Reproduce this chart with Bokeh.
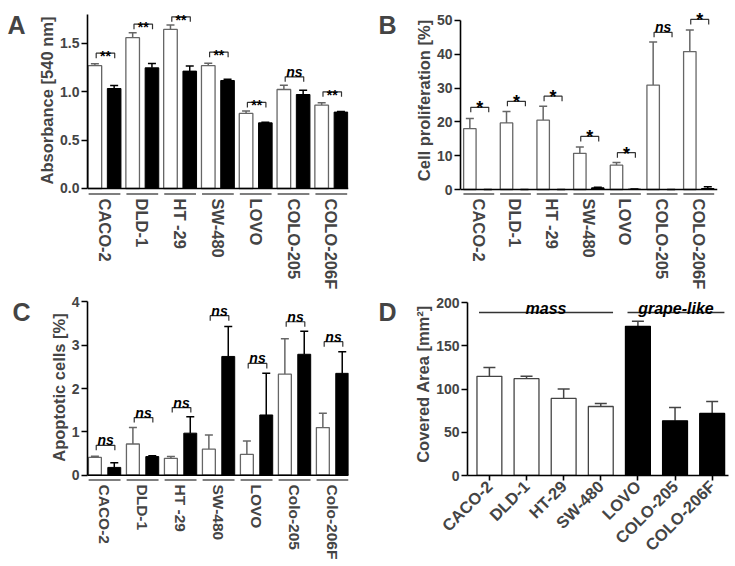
import numpy as np
from bokeh.plotting import figure
from bokeh.models import (ColumnDataSource, FixedTicker, PrintfTickFormatter, Span,
                          Whisker, TeeHead, Range1d, LinearAxis)
from bokeh.layouts import column, row
from bokeh.embed import file_html
from bokeh.resources import INLINE
from bokeh.core.properties import value

# ------------------------------------------------------------------ data
a_labels = ["CACO-2", "DLD-1", "HT -29", "SW-480", "LOVO", "COLO-205", "COLO-206F"]
a_ctrl = [1.27, 1.56, 1.645, 1.27, 0.776, 1.024, 0.862]
a_ctrl_err = [0.02, 0.05, 0.045, 0.025, 0.025, 0.045, 0.025]
a_treat = [1.034, 1.248, 1.214, 1.117, 0.679, 0.972, 0.79]
a_treat_err = [0.032, 0.045, 0.052, 0.014, 0.007, 0.045, 0.007]
a_sig = ["**", "**", "**", "**", "**", "ns", "**"]
a_sig_y = [1.40, 1.70, 1.775, 1.41, 0.89, 1.155, 1.0]

b_labels = ["CACO-2", "DLD-1", "HT -29", "SW-480", "LOVO", "COLO-205", "COLO-206F"]
b_ctrl = [18.0, 19.7, 20.5, 10.7, 7.2, 30.9, 40.8]
b_ctrl_err = [3.0, 3.4, 4.1, 1.9, 0.8, 12.7, 6.4]
b_treat = [0.0, 0.0, 0.0, 0.5, 0.1, 0.0, 0.3]
b_treat_err = [0.0, 0.0, 0.0, 0.2, 0.05, 0.0, 0.5]
b_sig = ["*", "*", "*", "*", "*", "ns", "*"]
b_sig_y = [24.3, 26.1, 27.6, 15.7, 10.9, 46.5, 50.3]

c_labels = ["CACO-2", "DLD-1", "HT -29", "SW-480", "LOVO", "Colo-205", "Colo-206F"]
c_ctrl = [0.41, 0.72, 0.39, 0.60, 0.48, 2.33, 1.10]
c_ctrl_err = [0.03, 0.38, 0.04, 0.33, 0.31, 0.82, 0.33]
c_treat = [0.18, 0.43, 0.97, 2.74, 1.39, 2.79, 2.35]
c_treat_err = [0.11, 0.02, 0.38, 0.69, 0.96, 0.53, 0.50]
c_sig = ["ns", "ns", "ns", "ns", "ns", "ns", "ns"]
c_sig_y = [0.69, 1.33, 1.56, 3.68, 2.58, 3.54, 3.08]

d_labels = ["CACO-2", "DLD-1", "HT-29", "SW-480", "LOVO", "COLO-205", "COLO-206F"]
d_area = [114.7, 112.0, 89.1, 79.8, 172.5, 63.2, 71.7]
d_area_err = [10.1, 2.7, 10.9, 3.5, 5.8, 15.5, 14.0]
d_growth = ["mass", "mass", "mass", "mass", "grape-like", "grape-like", "grape-like"]
d_group_names = ["mass", "grape-like"]
d_group_y = [188.4, 188.4]

panel_letters = ["A", "B", "C", "D"]

FONT = "Liberation Sans"


def style_axes(p, yticks, yfmt, ytop, ylabel):
    p.xgrid.visible = False
    p.ygrid.visible = False
    p.outline_line_color = None
    p.background_fill_color = "white"
    ya = p.yaxis[0]
    ya.bounds = (0, ytop)
    ya.ticker = FixedTicker(ticks=yticks)
    ya.formatter = PrintfTickFormatter(format=yfmt)
    ya.axis_label = ylabel
    ya.axis_label_text_font = FONT
    ya.axis_label_text_font_style = "bold"
    ya.axis_label_text_font_size = "16.5px"
    ya.axis_label_standoff = 1
    ya.major_label_text_font = FONT
    ya.major_label_text_font_style = "bold"
    ya.major_label_text_font_size = "14px"
    ya.major_label_standoff = 2
    ya.axis_line_width = 1.6
    ya.axis_line_color = "black"
    ya.major_tick_line_width = 1.6
    ya.major_tick_out = 6
    ya.major_tick_in = 0
    ya.minor_tick_line_color = None


def add_letter(p, letter, frame_h, px_from_top, standoff):
    # panel letter drawn as the only tick label of an extra, line-less left axis
    p.extra_y_ranges = {"letter": Range1d(0, frame_h)}
    pos = int(round(frame_h - px_from_top))
    ax = LinearAxis(y_range_name="letter", ticker=FixedTicker(ticks=[pos]),
                    major_label_overrides={pos: letter},
                    axis_line_color=None, major_tick_line_color=None,
                    minor_tick_line_color=None, major_tick_out=0, major_tick_in=0,
                    major_label_text_font=FONT, major_label_text_font_style="bold",
                    major_label_text_font_size="25px", major_label_text_line_height=0.6,
                    major_label_standoff=standoff)
    p.add_layout(ax, "left")


def make_fig(fw, fh, xr, yr, mb):
    mb_l, mb_r, mb_t, mb_b = mb
    return figure(frame_width=fw, frame_height=fh, x_range=Range1d(*xr), y_range=Range1d(*yr),
                  output_backend="svg", toolbar_location=None,
                  min_border_left=mb_l, min_border_right=mb_r,
                  min_border_top=mb_t, min_border_bottom=mb_b)


def grouped_panel(labels, ctrl, ctrl_err, treat, treat_err, sig, sig_y, *,
                  fw, fh, xr, yr, mb, ytop, yticks, yfmt, ylabel,
                  bar_w, off, label_size, sig_sizes, letter, letter_pos):
    p = make_fig(fw, fh, xr, yr, mb)
    style_axes(p, yticks, yfmt, ytop, ylabel)
    ppu = fh / (yr[1] - yr[0])
    n = len(labels)
    cx = np.arange(n, dtype=float)

    xa = p.xaxis[0]
    xa.ticker = FixedTicker(ticks=list(range(n)))
    xa.major_label_overrides = {i: lab for i, lab in enumerate(labels)}
    xa.major_label_orientation = "vertical"
    xa.axis_line_color = None
    xa.major_tick_line_color = None
    xa.major_tick_out = 0
    xa.major_tick_in = 0
    xa.minor_tick_line_color = None
    xa.major_label_text_font = FONT
    xa.major_label_text_font_style = "bold"
    xa.major_label_text_font_size = label_size
    xa.major_label_standoff = 2

    p.add_layout(Span(location=0, dimension="width", line_color="black", line_width=1.6))
    yseg = yr[0] + 2.5 / ppu
    p.segment(x0=cx - 0.42, x1=cx + 0.42, y0=yseg, y1=yseg, line_color="#555555", line_width=1.5)

    ctrl = np.array(ctrl); treat = np.array(treat)
    src_c = ColumnDataSource(dict(x=cx - off, top=ctrl, lo=ctrl, hi=ctrl + np.array(ctrl_err)))
    src_t = ColumnDataSource(dict(x=cx + off, top=treat, lo=treat, hi=treat + np.array(treat_err)))
    p.vbar(x="x", top="top", width=bar_w, source=src_c, fill_color="white",
           line_color="#666666", line_width=1.3)
    p.vbar(x="x", top="top", width=bar_w, source=src_t, fill_color="black",
           line_color="black", line_width=1.0)
    p.add_layout(Whisker(source=src_c, base="x", lower="lo", upper="hi", dimension="height",
                         line_color="#666666", line_width=1.5, lower_head=None,
                         upper_head=TeeHead(size=8, line_color="#666666", line_width=1.5)))
    p.add_layout(Whisker(source=src_t, base="x", lower="lo", upper="hi", dimension="height",
                         line_color="black", line_width=1.5, lower_head=None,
                         upper_head=TeeHead(size=8, line_color="black", line_width=1.5)))

    d = 5.0 / ppu
    x1 = cx - 0.22
    x2 = cx + 0.27
    sy = np.array(sig_y)
    p.multi_line(xs=[[a, a, b, b] for a, b in zip(x1, x2)],
                 ys=[[y - d, y, y, y - d] for y in sy],
                 line_color="#333333", line_width=1.2)
    tx = (x1 + x2) / 2
    star_idx = [i for i, s in enumerate(sig) if s != "ns"]
    ns_idx = [i for i, s in enumerate(sig) if s == "ns"]
    if star_idx:
        p.text(x=tx[star_idx], y=sy[star_idx], text=[sig[i] for i in star_idx],
               text_align="center", text_baseline="alphabetic", y_offset=sig_sizes[2],
               text_font=value(FONT), text_font_style="bold",
               text_font_size=sig_sizes[0], text_color="black")
    if ns_idx:
        p.text(x=tx[ns_idx], y=sy[ns_idx], text=["ns"] * len(ns_idx),
               text_align="center", text_baseline="alphabetic", y_offset=-5,
               text_font=value(FONT), text_font_style="bold italic",
               text_font_size=sig_sizes[1], text_color="black")

    add_letter(p, letter, fh, letter_pos[0], letter_pos[1])
    return p


pA = grouped_panel(a_labels, a_ctrl, a_ctrl_err, a_treat, a_treat_err, a_sig, a_sig_y,
                   fw=261, fh=192, xr=(-0.45, 6.455), yr=(-0.083, 1.903),
                   mb=(87, 22, 4, 94), ytop=1.8, yticks=[0, 0.5, 1.0, 1.5], yfmt="%.1f",
                   ylabel="Absorbance [540 nm]", bar_w=0.36, off=0.255, label_size="16.5px",
                   sig_sizes=("14px", "14px", 3), letter=panel_letters[0], letter_pos=(19.5, 10))

pB = grouped_panel(b_labels, b_ctrl, b_ctrl_err, b_treat, b_treat_err, b_sig, b_sig_y,
                   fw=257, fh=192, xr=(-0.5, 6.51), yr=(-2.07, 54.73),
                   mb=(90, 18, 4, 94), ytop=50, yticks=[0, 10, 20, 30, 40, 50], yfmt="%d",
                   ylabel="Cell proliferation [%]", bar_w=0.34, off=0.245, label_size="16.5px",
                   sig_sizes=("18px", "14px", 1), letter=panel_letters[1], letter_pos=(19.5, 15))

pC = grouped_panel(c_labels, c_ctrl, c_ctrl_err, c_treat, c_treat_err, c_sig, c_sig_y,
                   fw=261, fh=190, xr=(-0.45, 6.42), yr=(-0.168, 4.215),
                   mb=(87, 22, 0, 86), ytop=4, yticks=[0, 1, 2, 3, 4], yfmt="%d",
                   ylabel="Apoptotic cells [%]", bar_w=0.34, off=0.255, label_size="15.5px",
                   sig_sizes=("14px", "14px", 3), letter=panel_letters[2], letter_pos=(9, 16))

# ------------------------------------------------------------------ panel D
D_FH = 183
pD = make_fig(261, D_FH, (-0.59, 6.44), (0, 211.6), (97, 7, 0, 86))
style_axes(pD, [0, 50, 100, 150, 200], "%d", 200, "Covered Area [mm²]")
xd = np.arange(len(d_labels), dtype=float)
fills = ["white" if g == "mass" else "black" for g in d_growth]
lines = ["#444444" if g == "mass" else "black" for g in d_growth]
src_d = ColumnDataSource(dict(x=xd, top=d_area, lo=d_area,
                              hi=np.array(d_area) + np.array(d_area_err),
                              fill=fills, line=lines))
pD.vbar(x="x", top="top", width=0.67, source=src_d, fill_color="fill",
        line_color="line", line_width=1.3)
pD.add_layout(Whisker(source=src_d, base="x", lower="lo", upper="hi", dimension="height",
                      line_color="#444444", line_width=1.5, lower_head=None,
                      upper_head=TeeHead(size=12, line_color="#444444", line_width=1.5)))
xa = pD.xaxis[0]
xa.ticker = FixedTicker(ticks=list(range(len(d_labels))))
xa.major_label_overrides = {i: lab for i, lab in enumerate(d_labels)}
xa.major_label_orientation = np.pi / 4
xa.axis_line_width = 1.6
xa.axis_line_color = "black"
xa.major_tick_line_width = 1.6
xa.major_tick_out = 5
xa.major_tick_in = 0
xa.minor_tick_line_color = None
xa.major_label_text_font = FONT
xa.major_label_text_font_style = "bold"
xa.major_label_text_font_size = "16.5px"
xa.major_label_standoff = 3

g_x0, g_x1 = [], []
for g in d_group_names:
    idx = [i for i, gg in enumerate(d_growth) if gg == g]
    g_x0.append(min(idx) - 0.28)
    g_x1.append(max(idx) + 0.33)
g_x0 = np.array(g_x0); g_x1 = np.array(g_x1)
pD.segment(x0=g_x0, x1=g_x1, y0=d_group_y, y1=d_group_y, line_color="#333333", line_width=1.6)
pD.text(x=(g_x0 + g_x1) / 2, y=d_group_y, text=d_group_names, text_align="center",
        text_baseline="alphabetic", y_offset=-4, text_font=value(FONT),
        text_font_style="bold italic", text_font_size="16px", text_color="black")
add_letter(pD, panel_letters[3], D_FH, 9, 15)

layout = column(row(pA, pB), row(pC, pD))
open("out.html", "w").write(file_html(layout, INLINE))
